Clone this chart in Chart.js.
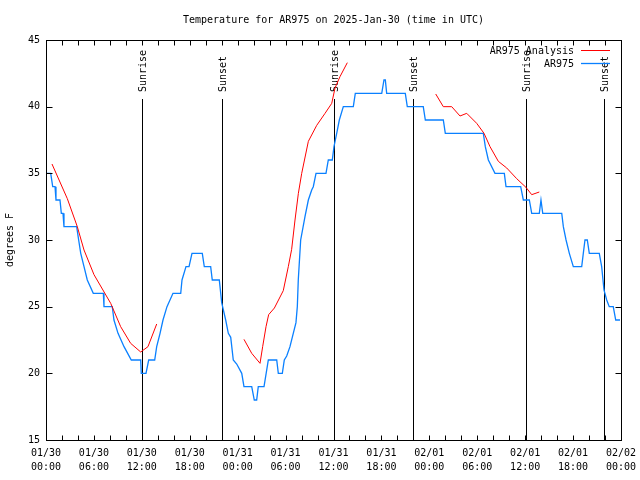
<!DOCTYPE html>
<html><head><meta charset="utf-8">
<script src="https://cdn.jsdelivr.net/npm/chart.js@4/dist/chart.umd.min.js"></script>
<style>html,body{margin:0;padding:0;background:#fff}canvas{display:block}</style>
</head><body><canvas id="c" width="640" height="480"></canvas>
<script>
const titleText = 'Temperature for AR975 on 2025-Jan-30 (time in UTC)';
const yTitle = 'degrees F';
const seriesNames = ['AR975 Analysis', 'AR975'];
const xTickLabels = [
  ['01/30','00:00'],['01/30','06:00'],['01/30','12:00'],['01/30','18:00'],
  ['01/31','00:00'],['01/31','06:00'],['01/31','12:00'],['01/31','18:00'],
  ['02/01','00:00'],['02/01','06:00'],['02/01','12:00'],['02/01','18:00'],
  ['02/02','00:00']
];
// hours since 2025-01-30 00:00 UTC
const sunHours = [12.06, 22.0, 36.1, 46.0, 60.07, 69.9];
const sunLabels = ['Sunrise','Sunset','Sunrise','Sunset','Sunrise','Sunset'];

const obsHours = [0,0.59,0.84,1.13,1.25,1.75,1.92,2.13,2.25,3.84,4.09,4.35,4.76,5.17,5.92,7.18,7.26,8.30,8.51,9.02,9.77,10.68,11.86,11.93,12.52,12.86,13.61,13.86,14.28,14.65,15.15,15.90,16.87,17.03,17.53,17.91,18.28,19.57,19.82,20.62,20.82,21.70,22.00,22.50,22.83,23.13,23.45,23.88,24.51,24.79,25.76,26.08,26.38,26.58,27.30,27.84,28.89,29.09,29.59,29.84,30.14,30.55,31.30,31.47,31.59,31.89,32.43,32.85,33.27,33.47,33.81,35.06,35.35,35.85,36.06,36.40,36.73,37.23,38.48,38.73,42.04,42.32,42.49,42.66,44.99,45.24,47.24,47.50,49.75,50.00,54.76,55.01,55.39,56.22,57.39,57.60,59.44,59.77,60.52,60.82,61.77,61.98,62.20,64.58,64.78,65.12,65.53,66.03,67.08,67.28,67.49,67.78,68.03,69.28,69.58,69.87,70.21,70.53,71.03,71.34,71.88];
const obsTemps = [35,35,34,34,33,33,32,32,31,31,30,29,28,27,26,26,25,25,24,23,22,21,21,20,20,21,21,22,23,24,25,26,26,27,28,28,29,29,28,28,27,27,25.3,24,23,22.7,21,20.7,20,19,19,18,18,19,19,21,21,20,20,21,21.3,22,23.8,25,27,30,31.75,33,33.75,34,35,35,36,36,37,38,39,40,40,41,41,42,42,41,41,40,40,39,39,38,38,37,36,35,35,34,34,33,33,32,32,33,32,32,31,30,29,28,28,29,30,30,29,29,28,26.25,25.5,25,25,24,24];

const anaHours = [0.75,2.67,3.92,4.76,6.01,8.1,9.35,10.6,11.86,12.77,13.86, null,
  24.79,25.76,26.8,27.13,27.55,27.88,28.6,29.71,30.34,30.76,31.18,31.6,32.02,32.85,33.9,34.94,35.78,36.19,36.81,37.73, null,
  48.8,49.75,50.8,51.84,52.68,53.93,54.85,55.6,56.64,57.69,58.94,60.1,60.82,61.77];
const anaTemps = [35.7,33.1,31.0,29.25,27.4,25.25,23.5,22.25,21.6,22.0,23.7, null,
  22.55,21.5,20.75,22.0,23.5,24.4,24.9,26.2,28.0,29.3,31.5,33.5,35.0,37.4,38.6,39.5,40.25,41.4,42.25,43.3, null,
  40.95,40.0,40.0,39.3,39.5,38.75,38.0,37.0,35.9,35.4,34.6,33.95,33.4,33.6];

const toXY = (hs, ts) => hs.map((h, i) => h === null ? {x: null, y: null} : {x: h, y: ts[i]});

const FONT = '"DejaVu Sans Mono", "Liberation Mono", monospace';
Chart.defaults.font.family = FONT;
Chart.defaults.font.size = 10;
Chart.defaults.color = '#000';

const decor = {
  id: 'decor',
  beforeDatasetsDraw(chart) {
    const {ctx, chartArea: a, scales: {x}} = chart;
    ctx.save();
    ctx.strokeStyle = '#000'; ctx.lineWidth = 1; ctx.fillStyle = '#000';
    ctx.font = '10px ' + FONT;
    ctx.textAlign = 'center'; ctx.textBaseline = 'middle';
    ctx.fillText(titleText, (a.left + a.right) / 2, 20);
    sunHours.forEach((h, i) => {
      const px = Math.round(x.getPixelForValue(h)) + 0.5;
      ctx.beginPath(); ctx.moveTo(px, 99); ctx.lineTo(px, a.bottom); ctx.stroke();
      ctx.save(); ctx.translate(px + 1, 92); ctx.rotate(-Math.PI / 2);
      ctx.textAlign = 'left'; ctx.textBaseline = 'middle';
      ctx.fillText(sunLabels[i], 0, 0); ctx.restore();
    });
    ctx.restore();
  },
  afterDatasetsDraw(chart) {
    const {ctx, chartArea: a, scales: {x, y}} = chart;
    ctx.save();
    ctx.strokeStyle = '#000'; ctx.lineWidth = 1;
    const L = Math.round(a.left) + 0.5, R = Math.round(a.right) + 0.5;
    const T = Math.round(a.top) + 0.5, B = Math.round(a.bottom) + 0.5;
    ctx.strokeRect(L, T, R - L, B - T);
    ctx.beginPath();
    for (let h = 0; h <= 72; h += 2) {
      const px = Math.round(x.getPixelForValue(h)) + 0.5;
      ctx.moveTo(px, B); ctx.lineTo(px, B - 5);
      ctx.moveTo(px, T); ctx.lineTo(px, T + 5);
    }
    for (let v = 15; v <= 45; v += 5) {
      const py = Math.round(y.getPixelForValue(v)) + 0.5;
      ctx.moveTo(L, py); ctx.lineTo(L + 6, py);
      ctx.moveTo(R, py); ctx.lineTo(R - 6, py);
    }
    ctx.stroke();
    ctx.font = '10px ' + FONT; ctx.fillStyle = '#000';
    ctx.textAlign = 'right'; ctx.textBaseline = 'middle';
    chart.data.datasets.forEach((ds, i) => {
      const ly = 50 + 13 * i;
      ctx.fillText(ds.label, a.right - 47, ly + 1);
      ctx.strokeStyle = ds.borderColor; ctx.lineWidth = ds.borderWidth;
      ctx.beginPath(); ctx.moveTo(a.right - 40, ly + 0.5); ctx.lineTo(a.right - 11, ly + 0.5); ctx.stroke();
    });
    ctx.restore();
  }
};

new Chart(document.getElementById('c'), {
  type: 'line',
  data: {
    datasets: [
      {label: seriesNames[0], data: toXY(anaHours, anaTemps), borderColor: '#ff0000', borderWidth: 1, pointRadius: 0, spanGaps: false, tension: 0},
      {label: seriesNames[1], data: toXY(obsHours, obsTemps), borderColor: '#0a80ff', borderWidth: 1.3, pointRadius: 0, tension: 0}
    ]
  },
  options: {
    responsive: false, animation: false,
    layout: {padding: {left: 0, right: 19, top: 40, bottom: 0}},
    plugins: {
      legend: {display: false}, tooltip: {enabled: false}, title: {display: false}
    },
    scales: {
      x: {
        type: 'linear', min: 0, max: 72,
        grid: {display: false, drawTicks: false},
        border: {display: false},
        ticks: {stepSize: 6, autoSkip: false, maxRotation: 0, padding: 6, font: {lineHeight: 1.4},
          callback: v => xTickLabels[Math.round(v / 6)]},
        afterFit: s => { s.height = 40; s.paddingLeft = 0; s.paddingRight = 0; }
      },
      y: {
        min: 15, max: 45,
        grid: {display: false, drawTicks: false},
        border: {display: false},
        ticks: {stepSize: 5, padding: 6},
        title: {display: true, text: yTitle, padding: {top: 4, bottom: 0}},
        afterFit: s => { s.width = 46; s.paddingTop = 0; s.paddingBottom = 0; }
      }
    }
  },
  plugins: [decor]
});
</script></body></html>
